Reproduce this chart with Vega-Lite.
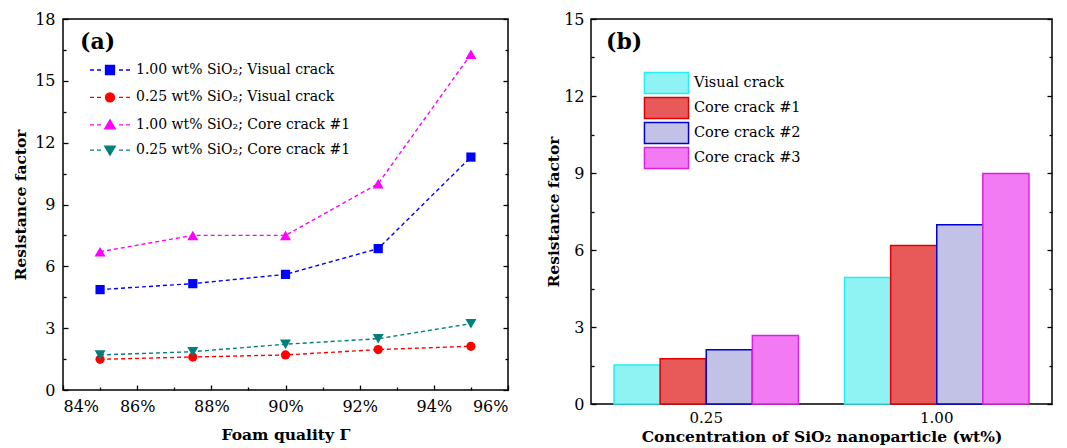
{
  "$schema": "https://vega.github.io/schema/vega-lite/v6.json",
  "background": "white",
  "padding": {"left": 12, "top": 10, "right": 15, "bottom": 2},
  "spacing": 35,
  "resolve": {"legend": {"color": "independent", "fill": "independent", "stroke": "independent"}, "scale": {"color": "independent", "fill": "independent", "stroke": "independent"}},
  "config": {
    "view": {"stroke": "black", "strokeWidth": 1.5},
    "axis": {"domain": false, "grid": false, "tickColor": "black", "tickWidth": 1.3}
  },
  "hconcat": [
    {
      "width": 445,
      "height": 371,
      "title": {"text": "(a)", "anchor": "start", "frame": "group", "font": "DejaVu Serif", "fontSize": 22, "fontWeight": "bold", "color": "black", "dx": 17, "dy": 43, "offset": 0},
      "data": {"values": [
        {"quality": 85, "rf": 4.87, "series": "1.00 wt% SiO₂; Visual crack"},
        {"quality": 87.5, "rf": 5.16, "series": "1.00 wt% SiO₂; Visual crack"},
        {"quality": 90, "rf": 5.61, "series": "1.00 wt% SiO₂; Visual crack"},
        {"quality": 92.5, "rf": 6.86, "series": "1.00 wt% SiO₂; Visual crack"},
        {"quality": 95, "rf": 11.3, "series": "1.00 wt% SiO₂; Visual crack"},
        {"quality": 85, "rf": 1.49, "series": "0.25 wt% SiO₂; Visual crack"},
        {"quality": 87.5, "rf": 1.6, "series": "0.25 wt% SiO₂; Visual crack"},
        {"quality": 90, "rf": 1.7, "series": "0.25 wt% SiO₂; Visual crack"},
        {"quality": 92.5, "rf": 1.96, "series": "0.25 wt% SiO₂; Visual crack"},
        {"quality": 95, "rf": 2.12, "series": "0.25 wt% SiO₂; Visual crack"},
        {"quality": 85, "rf": 6.71, "series": "1.00 wt% SiO₂; Core crack #1"},
        {"quality": 87.5, "rf": 7.5, "series": "1.00 wt% SiO₂; Core crack #1"},
        {"quality": 90, "rf": 7.5, "series": "1.00 wt% SiO₂; Core crack #1"},
        {"quality": 92.5, "rf": 10.01, "series": "1.00 wt% SiO₂; Core crack #1"},
        {"quality": 95, "rf": 16.29, "series": "1.00 wt% SiO₂; Core crack #1"},
        {"quality": 85, "rf": 1.7, "series": "0.25 wt% SiO₂; Core crack #1"},
        {"quality": 87.5, "rf": 1.86, "series": "0.25 wt% SiO₂; Core crack #1"},
        {"quality": 90, "rf": 2.22, "series": "0.25 wt% SiO₂; Core crack #1"},
        {"quality": 92.5, "rf": 2.49, "series": "0.25 wt% SiO₂; Core crack #1"},
        {"quality": 95, "rf": 3.22, "series": "0.25 wt% SiO₂; Core crack #1"}
      ]},
      "layer": [
        {
          "mark": {"type": "line", "strokeDash": [4, 3], "strokeWidth": 1.4},
          "encoding": {
            "x": {"field": "quality", "type": "quantitative", "scale": {"domain": [84, 96], "nice": false, "zero": false},
                  "axis": {"orient": "bottom", "values": [84, 86, 88, 90, 92, 94, 96], "labelExpr": "datum.value + '%'", "tickSize": -5, "labelPadding": 13, "title": "Foam quality Γ", "titlePadding": 13, "labelFont": "DejaVu Serif", "titleFont": "DejaVu Serif", "labelFontSize": 16, "titleFontSize": 15.5, "titleFontWeight": "bold", "labelColor": "black", "titleColor": "black"}},
            "y": {"field": "rf", "type": "quantitative", "scale": {"domain": [0, 18], "nice": false},
                  "axis": {"orient": "left", "values": [0, 3, 6, 9, 12, 15, 18], "tickSize": -5, "labelPadding": 13, "title": "Resistance factor", "titlePadding": 6, "labelFont": "DejaVu Serif", "titleFont": "DejaVu Serif", "labelFontSize": 16, "titleFontSize": 15.5, "titleFontWeight": "bold", "labelColor": "black", "titleColor": "black"}},
            "color": {"field": "series", "type": "nominal",
                      "scale": {"domain": ["1.00 wt% SiO₂; Visual crack", "0.25 wt% SiO₂; Visual crack", "1.00 wt% SiO₂; Core crack #1", "0.25 wt% SiO₂; Core crack #1"], "range": ["#0000ff", "#ff0000", "#ff00ff", "#00807a"]},
                      "legend": {"orient": "none", "legendX": 40, "legendY": 44, "title": null, "symbolSize": 100, "labelOffset": 19, "rowPadding": 11.4, "labelLimit": 400, "labelFont": "DejaVu Serif", "labelFontSize": 14, "labelColor": "black",
                                 "encode": {"symbols": {"update": {
                                   "shape": {"signal": "datum.value === '1.00 wt% SiO₂; Visual crack' ? 'M-4,0H-3.2M-2.6,0H-1.8M1.8,0H2.6M3.2,0H4M-0.9,-0.9H0.9V0.9H-0.9Z' : datum.value === '0.25 wt% SiO₂; Visual crack' ? 'M-4,0H-3.2M-2.6,0H-1.8M1.8,0H2.6M3.2,0H4M-0.9,0A0.9,0.9,0,1,0,0.9,0A0.9,0.9,0,1,0,-0.9,0Z' : datum.value === '1.00 wt% SiO₂; Core crack #1' ? 'M-4,0H-3.2M-2.6,0H-1.8M1.8,0H2.6M3.2,0H4M0,-1L1.05,0.8H-1.05Z' : 'M-4,0H-3.2M-2.6,0H-1.8M1.8,0H2.6M3.2,0H4M0,1L1.05,-0.8H-1.05Z'"},
                                   "fill": {"signal": "datum.value === '1.00 wt% SiO₂; Visual crack' ? '#0000ff' : datum.value === '0.25 wt% SiO₂; Visual crack' ? '#ff0000' : datum.value === '1.00 wt% SiO₂; Core crack #1' ? '#ff00ff' : '#00807a'"},
                                   "stroke": {"signal": "datum.value === '1.00 wt% SiO₂; Visual crack' ? '#0000ff' : datum.value === '0.25 wt% SiO₂; Visual crack' ? '#ff0000' : datum.value === '1.00 wt% SiO₂; Core crack #1' ? '#ff00ff' : '#00807a'"},
                                   "strokeWidth": {"value": 1.3},
                                   "strokeDash": {"value": []},
                                   "opacity": {"value": 1}
                                 }}}}}
          }
        },
        {
          "transform": [{"filter": "datum.series === '1.00 wt% SiO₂; Visual crack'"}],
          "mark": {"type": "point", "shape": "square", "filled": true, "opacity": 1, "size": 85},
          "encoding": {
            "x": {"field": "quality", "type": "quantitative", "axis": {"orient": "bottom", "values": [85, 87, 89, 91, 93, 95], "labels": false, "tickSize": -3, "title": null}},
            "y": {"field": "rf", "type": "quantitative", "axis": {"orient": "right", "values": [0, 3, 6, 9, 12, 15, 18], "labels": false, "tickSize": -5, "title": null}},
            "color": {"field": "series", "type": "nominal"}
          }
        },
        {
          "transform": [{"filter": "datum.series === '0.25 wt% SiO₂; Visual crack'"}],
          "mark": {"type": "point", "shape": "circle", "filled": true, "opacity": 1, "size": 85},
          "encoding": {
            "x": {"field": "quality", "type": "quantitative", "axis": null},
            "y": {"field": "rf", "type": "quantitative", "axis": {"orient": "left", "values": [1.5, 4.5, 7.5, 10.5, 13.5, 16.5], "labels": false, "tickSize": -3, "title": null}},
            "color": {"field": "series", "type": "nominal"}
          }
        },
        {
          "transform": [{"filter": "datum.series === '1.00 wt% SiO₂; Core crack #1'"}],
          "mark": {"type": "point", "shape": "triangle-up", "filled": true, "opacity": 1, "size": 120},
          "encoding": {
            "x": {"field": "quality", "type": "quantitative", "axis": null},
            "y": {"field": "rf", "type": "quantitative", "axis": {"orient": "right", "values": [1.5, 4.5, 7.5, 10.5, 13.5, 16.5], "labels": false, "tickSize": -3, "title": null}},
            "color": {"field": "series", "type": "nominal"}
          }
        },
        {
          "transform": [{"filter": "datum.series === '0.25 wt% SiO₂; Core crack #1'"}],
          "mark": {"type": "point", "shape": "triangle-down", "filled": true, "opacity": 1, "size": 120},
          "encoding": {
            "x": {"field": "quality", "type": "quantitative", "axis": null},
            "y": {"field": "rf", "type": "quantitative", "axis": null},
            "color": {"field": "series", "type": "nominal"}
          }
        }
      ],
      "resolve": {"axis": {"x": "independent", "y": "independent"}}
    },
    {
      "width": 461,
      "height": 385,
      "title": {"text": "(b)", "anchor": "start", "frame": "group", "font": "DejaVu Serif", "fontSize": 22, "fontWeight": "bold", "color": "black", "dx": 15, "dy": 43, "offset": 0},
      "data": {"values": [
        {"conc": "0.25", "crack": "Visual crack", "rf": 1.52},
        {"conc": "0.25", "crack": "Core crack #1", "rf": 1.76},
        {"conc": "0.25", "crack": "Core crack #2", "rf": 2.11},
        {"conc": "0.25", "crack": "Core crack #3", "rf": 2.67},
        {"conc": "1.00", "crack": "Visual crack", "rf": 4.93},
        {"conc": "1.00", "crack": "Core crack #1", "rf": 6.18},
        {"conc": "1.00", "crack": "Core crack #2", "rf": 6.98},
        {"conc": "1.00", "crack": "Core crack #3", "rf": 8.98}
      ]},
      "layer": [
        {
          "mark": {"type": "bar", "strokeWidth": 1.5},
          "encoding": {
            "x": {"field": "conc", "type": "nominal", "scale": {"paddingInner": 0.2, "paddingOuter": 0.1},
                  "axis": {"orient": "bottom", "labelAngle": 0, "ticks": false, "labelPadding": 6, "title": "Concentration of SiO₂ nanoparticle (wt%)", "titlePadding": 4, "labelFont": "DejaVu Serif", "titleFont": "DejaVu Serif", "labelFontSize": 15, "titleFontSize": 15.5, "titleFontWeight": "bold", "labelColor": "black", "titleColor": "black"}},
            "xOffset": {"field": "crack", "type": "nominal", "scale": {"domain": ["Visual crack", "Core crack #1", "Core crack #2", "Core crack #3"], "paddingInner": 0, "paddingOuter": 0}},
            "y": {"field": "rf", "type": "quantitative", "scale": {"domain": [0, 15], "nice": false},
                  "axis": {"orient": "left", "values": [0, 3, 6, 9, 12, 15], "tickSize": -5, "labelPadding": 12, "title": "Resistance factor", "titlePadding": 2, "labelFont": "DejaVu Serif", "titleFont": "DejaVu Serif", "labelFontSize": 16, "titleFontSize": 15.5, "titleFontWeight": "bold", "labelColor": "black", "titleColor": "black"}},
            "fill": {"field": "crack", "type": "nominal",
                     "scale": {"domain": ["Visual crack", "Core crack #1", "Core crack #2", "Core crack #3"], "range": ["#8ff3f3", "#e85a5a", "#c2c2e6", "#f27af2"]},
                     "legend": {"orient": "none", "legendX": 64, "legendY": 52.5, "title": null, "symbolType": "M-2.1,-1H2.1V1H-2.1Z", "symbolSize": 441, "labelOffset": 16, "rowPadding": -2.5, "labelFont": "DejaVu Serif", "labelFontSize": 14.5, "labelColor": "black",
                                "encode": {"symbols": {"update": {
                                  "stroke": {"signal": "datum.value === 'Visual crack' ? '#20f0f0' : datum.value === 'Core crack #1' ? '#e00000' : datum.value === 'Core crack #2' ? '#0000d0' : '#e020e0'"},
                                  "fill": {"signal": "datum.value === 'Visual crack' ? '#8ff3f3' : datum.value === 'Core crack #1' ? '#e85a5a' : datum.value === 'Core crack #2' ? '#c2c2e6' : '#f27af2'"},
                                  "strokeWidth": {"value": 1.5},
                                  "opacity": {"value": 1}
                                }}}}},
            "stroke": {"field": "crack", "type": "nominal",
                       "scale": {"domain": ["Visual crack", "Core crack #1", "Core crack #2", "Core crack #3"], "range": ["#20f0f0", "#e00000", "#0000d0", "#e020e0"]},
                       "legend": null}
          }
        },
        {
          "mark": {"type": "point", "opacity": 0},
          "encoding": {
            "x": {"field": "conc", "type": "nominal", "axis": null},
            "y": {"field": "rf", "type": "quantitative", "axis": {"orient": "right", "values": [0, 3, 6, 9, 12, 15], "labels": false, "tickSize": -5, "title": null}}
          }
        },
        {
          "mark": {"type": "point", "opacity": 0},
          "encoding": {
            "x": {"field": "conc", "type": "nominal", "axis": null},
            "y": {"field": "rf", "type": "quantitative", "axis": {"orient": "left", "values": [1.5, 4.5, 7.5, 10.5, 13.5], "labels": false, "tickSize": -3, "title": null}}
          }
        },
        {
          "mark": {"type": "point", "opacity": 0},
          "encoding": {
            "x": {"field": "conc", "type": "nominal", "axis": null},
            "y": {"field": "rf", "type": "quantitative", "axis": {"orient": "right", "values": [1.5, 4.5, 7.5, 10.5, 13.5], "labels": false, "tickSize": -3, "title": null}}
          }
        }
      ],
      "resolve": {"axis": {"x": "independent", "y": "independent"}}
    }
  ]
}
